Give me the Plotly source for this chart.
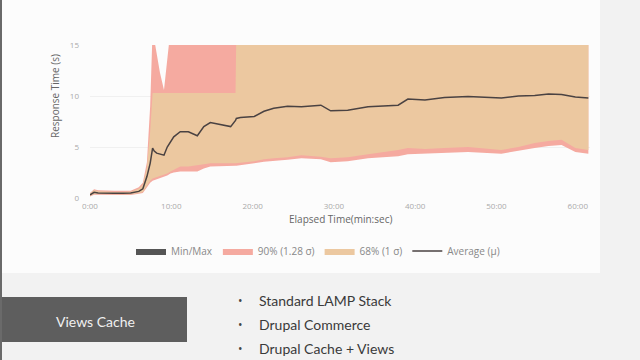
import plotly.graph_objects as go

# ---- data (minutes, seconds) ----
elapsed_min = [0, 0.5, 1, 2, 3, 4, 5, 6, 6.5, 7.0, 7.4, 7.7, 7.9, 8.2, 8.6, 9.1, 9.5, 9.9, 10.3, 11.1,
               12.1, 13.2, 14.0, 14.8, 16.0, 17.3, 17.9, 18.0, 18.5, 20.2, 21.4, 22.6, 24.3, 26.0, 28.4,
               29.6, 31.7, 34.2, 37.9, 39.1, 41.2, 43.6, 46.5, 50.6, 52.7, 54.7, 56.4, 58.0, 59.7, 61.3]

average = [0.3, 0.56, 0.5, 0.46, 0.46, 0.47, 0.48, 0.65, 0.9, 2.1, 3.4, 4.9, 4.6, 4.4, 4.3, 4.2, 5.0, 5.5,
           6.0, 6.5, 6.5, 6.1, 7.0, 7.4, 7.2, 7.0, 7.6, 7.8, 7.9, 8.0, 8.5, 8.8, 9.0, 8.95, 9.1, 8.55,
           8.6, 8.95, 9.1, 9.7, 9.6, 9.85, 9.95, 9.8, 10.0, 10.05, 10.2, 10.15, 9.9, 9.8]

p68_low = [0.2, 0.4, 0.38, 0.36, 0.36, 0.37, 0.37, 0.5, 0.6, 1.2, 1.7, 1.9, 2.0, 2.1, 2.2, 2.3, 2.4, 2.6,
           2.8, 3.1, 3.1, 3.2, 3.3, 3.4, 3.4, 3.4, 3.4, 3.4, 3.4, 3.6, 3.8, 3.9, 4.0, 4.2, 4.05, 3.9,
           4.0, 4.3, 4.7, 4.9, 4.8, 4.9, 5.0, 4.7, 5.0, 5.4, 5.6, 5.7, 4.9, 4.7]

p90_low = [0.15, 0.32, 0.3, 0.3, 0.3, 0.3, 0.3, 0.42, 0.5, 1.0, 1.5, 1.7, 1.8, 1.9, 2.0, 2.1, 2.2, 2.4,
           2.5, 2.6, 2.6, 2.6, 2.9, 3.1, 3.1, 3.15, 3.15, 3.15, 3.15, 3.4, 3.55, 3.65, 3.75, 3.9, 3.8, 3.5,
           3.6, 3.9, 4.1, 4.3, 4.3, 4.4, 4.5, 4.35, 4.6, 4.9, 5.1, 5.2, 4.5, 4.35]

p68_high = [0.45, 0.75, 0.65, 0.6, 0.6, 0.6, 0.62, 0.9, 1.3, 3.0, 6.5, 10.3, 10.3, 10.3, 10.3, 10.3, 10.3,
            10.3, 10.3, 10.3, 10.3, 10.3, 10.3, 10.3, 10.3, 10.3, 10.3, 16.5, 16.5, 16.5, 16.5, 16.5,
            16.5, 16.5, 16.5, 16.5, 16.5, 16.5, 16.5, 16.5, 16.5, 16.5, 16.5, 16.5, 16.5, 16.5, 16.5,
            16.5, 16.5, 16.5]

p90_high = [0.5, 0.85, 0.75, 0.7, 0.7, 0.7, 0.72, 1.05, 1.5, 3.5, 9.0, 16.5, 15.5, 14.0, 12.3, 10.6, 13.0,
            16.5, 16.5, 16.5, 16.5, 16.5, 16.5, 16.5, 16.5, 16.5, 16.5, 16.5, 16.5, 16.5, 16.5, 16.5,
            16.5, 16.5, 16.5, 16.5, 16.5, 16.5, 16.5, 16.5, 16.5, 16.5, 16.5, 16.5, 16.5, 16.5, 16.5,
            16.5, 16.5, 16.5]

x_tickvals = [0, 10, 20, 30, 40, 50, 60]
x_ticktext = ["0:00", "10:00", "20:00", "30:00", "40:00", "50:00", "60:00"]
y_tickvals = [0, 5, 10, 15]

bullets = ["Standard LAMP Stack", "Drupal Commerce", "Drupal Cache + Views"]
box_label = "Views Cache"

# ---- layout helpers (pixel -> paper) ----
L, R, T, B = 90, 50, 45, 162
PW, PH = 640 - L - R, 360 - T - B
def px(x):
    return (x - L) / PW
def py(y):
    return (360 - B - y) / PH

fig = go.Figure()

fig.add_trace(go.Scatter(x=[None], y=[None], mode="lines", fill="toself",
                         fillcolor="#555555", line=dict(width=0, color="#555555"),
                         name="Min/Max"))
fig.add_trace(go.Scatter(x=elapsed_min + elapsed_min[::-1], y=p90_high + p90_low[::-1],
                         mode="lines", fill="toself", fillcolor="#f5aaa0",
                         line=dict(width=0, color="#f5aaa0"), name="90% (1.28 σ)"))
fig.add_trace(go.Scatter(x=elapsed_min + elapsed_min[::-1], y=p68_high + p68_low[::-1],
                         mode="lines", fill="toself", fillcolor="#ecc8a0",
                         line=dict(width=0, color="#ecc8a0"), name="68% (1 σ)"))
fig.add_trace(go.Scatter(x=elapsed_min, y=average, mode="lines",
                         line=dict(color="#4a4242", width=1.5), name="Average (μ)"))

shapes = [
    dict(type="rect", xref="paper", yref="paper", x0=px(0), x1=px(600), y0=py(273), y1=py(0),
         fillcolor="#fcfcfc", line=dict(width=0), layer="below"),
    dict(type="rect", xref="paper", yref="paper", x0=px(0), x1=px(187), y0=py(342), y1=py(297),
         fillcolor="#5e5e5e", line=dict(width=0), layer="above"),
    dict(type="line", xref="paper", yref="paper", x0=px(1), x1=px(1), y0=py(360), y1=py(0),
         line=dict(color="#6a6a6a", width=2)),
]

annotations = [
    dict(text="Response Time (s)", xref="paper", yref="paper", x=px(55), y=py(96),
         xanchor="center", yanchor="middle",
         showarrow=False, textangle=-90, font=dict(size=10, color="#666666")),
    dict(text="Elapsed Time(min:sec)", xref="paper", yref="paper", x=px(340), y=py(219),
         xanchor="center", yanchor="middle",
         showarrow=False, font=dict(size=10, color="#666666")),
    dict(text=box_label, xref="paper", yref="paper", x=px(95), y=py(321),
         xanchor="center", yanchor="middle",
         showarrow=False, font=dict(size=14, color="#f0f0f0", family="Lato")),
]
for i, b in enumerate(bullets):
    yy = py(300 + 24 * i)
    annotations.append(dict(text="•", xref="paper", yref="paper", x=px(240), y=yy,
                            xanchor="center", yanchor="middle",
                            showarrow=False, font=dict(size=12, color="#444444")))
    annotations.append(dict(text=b, xref="paper", yref="paper", x=px(257), y=yy, xanchor="left",
                            yanchor="middle",
                            showarrow=False, font=dict(size=14, color="#3a3a3a", family="Lato")))

fig.update_layout(
    width=640, height=360,
    margin=dict(l=L, r=R, t=T, b=B),
    paper_bgcolor="#f2f2f2", plot_bgcolor="#ffffff",
    font=dict(family="Open Sans", color="#999999"),
    showlegend=True,
    legend=dict(orientation="h", x=px(318), xanchor="center", y=py(251), yanchor="middle",
                font=dict(size=10, color="#888888"), bgcolor="rgba(0,0,0,0)",
                itemwidth=30, tracegroupgap=0),
    xaxis=dict(range=[0, 61.5], tickvals=x_tickvals, ticktext=x_ticktext, showgrid=False,
               zeroline=False, ticks="", ticklabelstandoff=2,
               tickfont=dict(size=8, color="#aaaaaa"), showline=False),
    yaxis=dict(range=[0, 15], tickvals=y_tickvals, showgrid=True, gridcolor="#f0f0f0",
               zeroline=False, tickfont=dict(size=8, color="#aaaaaa"), ticks="",
               ticklabelstandoff=10),
    shapes=shapes,
    annotations=annotations,
)

fig.write_html("out.html", config={"displayModeBar": False},
               post_script="document.body.style.margin='0px';")
